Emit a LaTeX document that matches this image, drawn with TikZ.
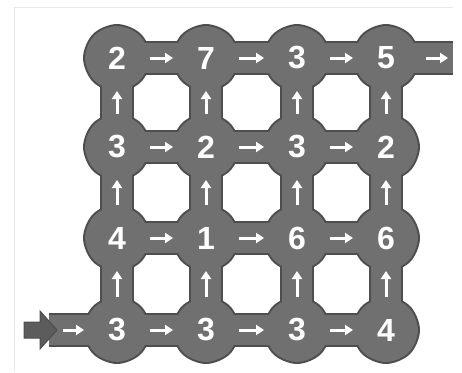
\documentclass[tikz,border=0pt]{standalone}
\usepackage{fontspec}
\setsansfont{Liberation Sans}
\usetikzlibrary{arrows.meta,shapes.geometric,backgrounds}
\definecolor{gridgray}{HTML}{707070}
\definecolor{rimgray}{HTML}{4E4E4E}
\definecolor{entrygray}{HTML}{5C5C5C}
\definecolor{framegray}{HTML}{E8E8E8}
\tikzset{
  cell/.style   ={regular polygon, regular polygon sides=8, minimum size=69pt, inner sep=0pt,
                  rounded corners=13pt, fill=gridgray, text=white, font=\sffamily\bfseries\fontsize{32}{32}\selectfont},
  cellrim/.style={regular polygon, regular polygon sides=8, minimum size=73.5pt, inner sep=0pt,
                  rounded corners=14pt, fill=rimgray},
  bar/.style    ={line width=30pt, draw=gridgray},
  barrim/.style ={line width=34pt, draw=rimgray},
  flow/.style   ={-{Triangle[length=8pt,width=10pt]}, draw=white, line width=3pt,
                  shorten <=33pt, shorten >=33pt},
  entry/.style  ={fill=entrygray, draw=rimgray, line width=1pt, line join=miter},
  frame/.style  ={draw=framegray, line width=0.8pt},
}
\begin{document}
\begin{tikzpicture}[x=1pt, y=-1pt]
  \useasboundingbox (0,0) rectangle (462,372);
  \draw[frame] (14,372) -- (14,7) -- (453,7);

  % ---- the 4x4 grid of numbers ----
  \foreach \r/\y/\a/\b/\cc/\d in {1/58/2/7/3/5, 2/147/3/2/3/2, 3/238/4/1/6/6, 4/330/3/3/3/4} {
    \node[cell] (n\r1) at (117,\y) {\a};
    \node[cell] (n\r2) at (206,\y) {\b};
    \node[cell] (n\r3) at (297,\y) {\cc};
    \node[cell] (n\r4) at (386,\y) {\d};
  }
  \coordinate (in)  at (49,330);
  \coordinate (out) at (453,58);

  % ---- corridors: rims first, then the grey fill ----
  \begin{scope}[on background layer]
    \foreach \r in {1,...,4} \foreach \c in {1,...,4}
      \node[cellrim] at (n\r\c) {};
    \foreach \r in {1,...,4} {
      \draw[barrim] (n\r1.center) -- (n\r4.center);
      \draw[barrim] (n1\r.center) -- (n4\r.center);
    }
    \draw[barrim] (in) -- (n41.center);
    \draw[barrim] (n14.center) -- (out);
    \foreach \r in {1,...,4} {
      \draw[bar] (n\r1.center) -- (n\r4.center);
      \draw[bar] (n1\r.center) -- (n4\r.center);
    }
    \draw[bar] (in) -- (n41.center);
    \draw[bar] (n14.center) -- (out);
  \end{scope}

  % ---- direction arrows ----
  \foreach \r in {1,...,4} \foreach \c/\cn in {1/2,2/3,3/4}
    \draw[flow] (n\r\c.center) -- (n\r\cn.center);
  \foreach \c in {1,...,4} \foreach \r/\rn in {2/1,3/2,4/3}
    \draw[flow] (n\r\c.center) -- (n\rn\c.center);
  \draw[flow, shorten <=14pt] (in) -- (n41.center);
  \draw[flow, shorten <=40pt, shorten >=5pt] (n14.center) -- (out);

  % ---- entry marker ----
  \draw[entry] (24,322) -- (40,322) -- (40,311) -- (57,330) -- (40,349) -- (40,338) -- (24,338) -- cycle;
\end{tikzpicture}
\end{document}
